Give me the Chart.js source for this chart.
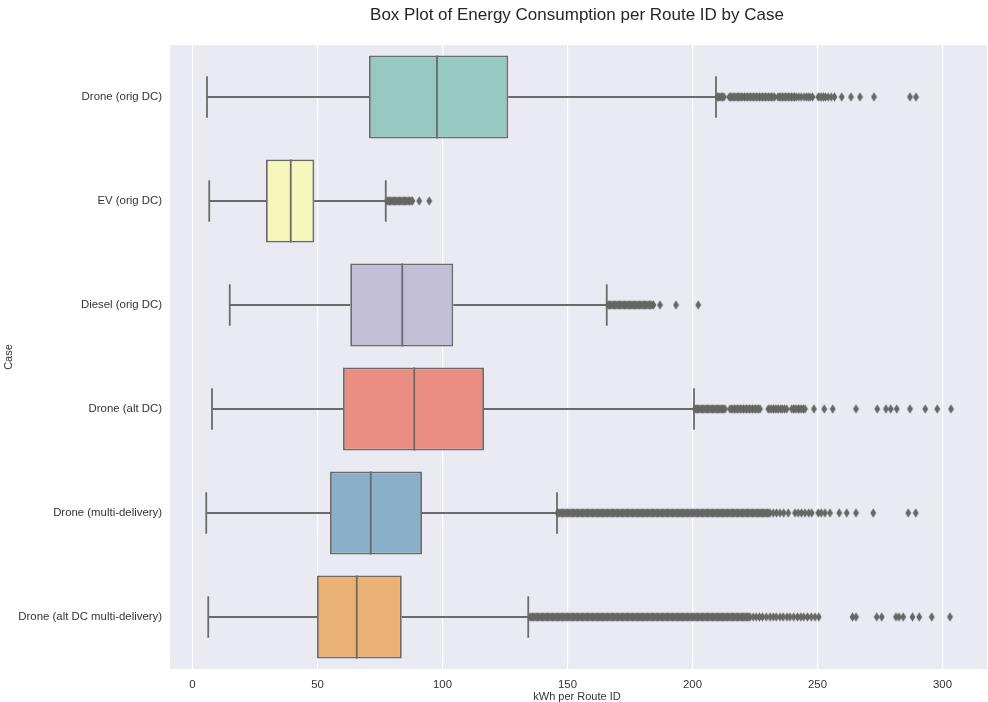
<!DOCTYPE html>
<html>
<head>
<meta charset="utf-8">
<script src="https://cdn.jsdelivr.net/npm/chart.js@4.4.0/dist/chart.umd.min.js"></script>
<style>
html,body{margin:0;padding:0;background:#fff;}
#wrap{width:988px;height:702px;}
</style>
</head>
<body>
<div id="wrap"><canvas id="c" width="988" height="702"></canvas></div>
<script>
const categories = ["Drone (orig DC)","EV (orig DC)","Diesel (orig DC)","Drone (alt DC)","Drone (multi-delivery)","Drone (alt DC multi-delivery)"];
const whiskerLow  = [5.8, 6.7, 14.9, 7.8, 5.5, 6.3];
const q1          = [70.6, 29.4, 63.1, 60.2, 55.0, 49.8];
const median      = [97.8, 39.3, 83.9, 88.7, 71.3, 65.7];
const q3          = [126.3, 48.7, 104.3, 116.6, 91.8, 83.7];
const whiskerHigh = [209.4, 77.3, 165.7, 200.6, 145.8, 134.3];
const boxColors = ["#96cac1","#f6f6bd","#c1bed6","#ea8e83","#8aafc9","#eab175"];
const xTicks = [0,50,100,150,200,250,300];

const outliersDroneOrig = [210,210.5,211,211.5,212,212.6,214.7,215.2,215.8,216.3,216.9,217.4,218,218.5,219,219.6,220.2,220.8,221.4,222,222.6,223.2,223.8,224.4,225,225.6,226.2,226.8,227.4,228,228.6,229.2,229.8,230.4,231,231.6,232.2,232.8,234.2,234.8,235.4,236,236.6,237.2,237.8,238.4,239,239.6,240.2,240.8,241.5,242.5,243.5,244.6,245.5,246.3,247,248,250.3,251,251.7,252.4,253.2,254.3,255.5,256.8,259.7,263.4,267,272.6,287,289.4];
const outliersEV = [77.8,78.3,78.8,79.3,79.8,80.3,80.8,81.3,81.8,82.3,82.8,83.3,83.8,84.3,84.8,85.3,85.8,86.3,86.8,87.4,88,90.7,94.7];
const outliersDiesel = [166.3,166.8,167.3,167.8,168.3,168.8,169.3,169.8,170.3,170.8,171.3,171.8,172.3,172.8,173.3,173.8,174.3,174.8,175.3,175.8,176.3,176.8,177.3,177.8,178.3,178.8,179.3,179.8,180.3,180.8,181.3,181.8,182.3,182.8,183.3,183.8,184.4,187,193.4,202.3];
const outliersDroneAlt = [201,201.5,202,202.5,203,203.5,204,204.5,205,205.5,206,206.5,207,207.5,208,208.5,209,209.5,210,210.5,211,211.5,212,212.5,213,215,215.6,216.2,216.8,217.4,218,218.6,219.2,219.8,220.4,221,221.6,222.2,222.8,223.4,224,224.6,225.2,225.8,226.4,227,230.3,231,231.7,232.4,233.1,233.8,234.5,235.3,236,236.8,237.7,239.7,240.4,241,241.7,242.4,243,243.7,244.4,245,248.6,252.7,256.1,265.4,273.9,277.4,279.3,281.7,287,293.1,297.9,303.4];
const outliersDroneMulti = [146,146.5,147,147.5,148,148.5,149,149.5,150,150.5,151,151.5,152,152.5,153,153.5,154,154.5,155,155.5,156,156.5,157,157.5,158,158.5,159,159.5,160,160.5,161,161.5,162,162.5,163,163.5,164,164.5,165,165.5,166,166.5,167,167.5,168,168.5,169,169.5,170,170.5,171,171.5,172,172.5,173,173.5,174,174.5,175,175.5,176,176.5,177,177.5,178,178.5,179,179.5,180,180.5,181,181.5,182,182.5,183,183.5,184,184.5,185,185.5,186,186.5,187,187.5,188,188.5,189,189.5,190,190.5,191,191.5,192,192.5,193,193.5,194,194.5,195,195.5,196,196.5,197,197.5,198,198.5,199,199.5,200,200.5,201,201.5,202,202.5,203,203.5,204,204.5,205,205.5,206,206.5,207,207.5,208,208.5,209,209.5,210,210.5,211,211.5,212,212.5,213,213.5,214,214.5,215,215.5,216,216.5,217,217.5,218,218.5,219,219.5,220,220.5,221,221.5,222,222.5,223,223.5,224,224.5,225,225.5,226,226.5,227,227.5,228,228.5,229,229.5,230,230.5,231,232.3,233.6,235,236.5,238.3,241,242.3,243.6,245,246.5,247.7,250.3,251.5,253,255,258.7,261.7,265.4,272.3,286.3,289.3];
const outliersDroneAltMulti = [135,135.5,136,136.5,137,137.5,138,138.5,139,139.5,140,140.5,141,141.5,142,142.5,143,143.5,144,144.5,145,145.5,146,146.5,147,147.5,148,148.5,149,149.5,150,150.5,151,151.5,152,152.5,153,153.5,154,154.5,155,155.5,156,156.5,157,157.5,158,158.5,159,159.5,160,160.5,161,161.5,162,162.5,163,163.5,164,164.5,165,165.5,166,166.5,167,167.5,168,168.5,169,169.5,170,170.5,171,171.5,172,172.5,173,173.5,174,174.5,175,175.5,176,176.5,177,177.5,178,178.5,179,179.5,180,180.5,181,181.5,182,182.5,183,183.5,184,184.5,185,185.5,186,186.5,187,187.5,188,188.5,189,189.5,190,190.5,191,191.5,192,192.5,193,193.5,194,194.5,195,195.5,196,196.5,197,197.5,198,198.5,199,199.5,200,200.5,201,201.5,202,202.5,203,203.5,204,204.5,205,205.5,206,206.5,207,207.5,208,208.5,209,209.5,210,210.5,211,211.5,212,212.5,213,213.5,214,214.5,215,215.5,216,216.5,217,217.5,218,218.5,219,219.5,220,220.5,221,221.5,222,222.5,223,224.3,225.5,226.8,228,229.5,231,232.3,233.5,235,236.3,237.8,239,240.5,242,243.3,244.5,246,247.5,249,250.5,264,265.4,273.7,275.7,281.4,282.6,284.3,288,290.7,295.7,303];
const outlierLists = [outliersDroneOrig, outliersEV, outliersDiesel, outliersDroneAlt, outliersDroneMulti, outliersDroneAltMulti];

const lineGray = "#6b6b6b";
const pointGray = "#666666";

// thin diamond marker
const dia = document.createElement('canvas');
dia.width = 7; dia.height = 10;
(function(){
  const g = dia.getContext('2d');
  g.fillStyle = pointGray;
  g.beginPath();
  g.moveTo(3.5,0.3); g.lineTo(6.4,5); g.lineTo(3.5,9.7); g.lineTo(0.6,5); g.closePath();
  g.fill();
})();

const outlierData = [];
outlierLists.forEach((arr, i) => arr.forEach(v => outlierData.push({x: v, y: categories[i]})));

const bgPlugin = {
  id: 'bg',
  beforeDraw(chart) {
    const {ctx, chartArea: a} = chart;
    ctx.save();
    ctx.fillStyle = '#eaeaf2';
    const right = Math.max(a.right, chart.width - 1);
    ctx.fillRect(a.left, a.top, right - a.left, a.bottom - a.top);
    ctx.restore();
  }
};

const boxPlugin = {
  id: 'boxparts',
  beforeDatasetsDraw(chart) {
    const ctx = chart.ctx;
    const xs = chart.scales.x;
    const meta = chart.getDatasetMeta(0);
    ctx.save();
    ctx.strokeStyle = lineGray;
    ctx.lineWidth = 1.8;
    meta.data.forEach((bar, i) => {
      const y = bar.y;
      const cap = bar.height * 0.25;
      const xl = xs.getPixelForValue(whiskerLow[i]);
      const x1 = xs.getPixelForValue(q1[i]);
      const x3 = xs.getPixelForValue(q3[i]);
      const xh = xs.getPixelForValue(whiskerHigh[i]);
      ctx.beginPath();
      ctx.moveTo(xl, y); ctx.lineTo(x1, y);
      ctx.moveTo(x3, y); ctx.lineTo(xh, y);
      ctx.moveTo(xl, y - cap); ctx.lineTo(xl, y + cap);
      ctx.moveTo(xh, y - cap); ctx.lineTo(xh, y + cap);
      ctx.stroke();
    });
    ctx.restore();
  },
  afterDatasetDraw(chart, args) {
    if (args.index !== 0) return;
    const ctx = chart.ctx;
    const xs = chart.scales.x;
    const meta = chart.getDatasetMeta(0);
    ctx.save();
    ctx.strokeStyle = lineGray;
    ctx.lineWidth = 1.8;
    meta.data.forEach((bar, i) => {
      const xm = xs.getPixelForValue(median[i]);
      ctx.beginPath();
      ctx.moveTo(xm, bar.y - bar.height / 2);
      ctx.lineTo(xm, bar.y + bar.height / 2);
      ctx.stroke();
    });
    ctx.restore();
  }
};

const FONT = "'Liberation Sans', Arial, Helvetica, sans-serif";

new Chart(document.getElementById('c'), {
  type: 'bar',
  data: {
    labels: categories,
    datasets: [
      {
        type: 'bar',
        data: categories.map((c, i) => [q1[i], q3[i]]),
        backgroundColor: boxColors,
        borderColor: lineGray,
        borderWidth: 1.8,
        borderSkipped: false,
        barPercentage: 0.8,
        categoryPercentage: 1.0,
        order: 2
      },
      {
        type: 'scatter',
        data: outlierData,
        pointStyle: dia,
        pointRadius: 4,
        backgroundColor: pointGray,
        borderWidth: 0,
        order: 1
      }
    ]
  },
  options: {
    indexAxis: 'y',
    responsive: false,
    animation: false,
    events: [],
    layout: { padding: { top: 0, right: 1, bottom: 0, left: 0 } },
    plugins: {
      legend: { display: false },
      tooltip: { enabled: false },
      title: {
        display: true,
        text: 'Box Plot of Energy Consumption per Route ID by Case',
        fullSize: false,
        color: '#262626',
        font: { family: FONT, size: 17, weight: 'normal' },
        padding: { top: 5, bottom: 19.6 }
      }
    },
    scales: {
      x: {
        type: 'linear',
        min: -9,
        max: 316.6,
        afterBuildTicks: s => { s.ticks = xTicks.map(v => ({ value: v })); },
        afterFit: s => { s.height = 33; s.paddingLeft = 0; s.paddingRight = 0; },
        grid: { color: '#ffffff', lineWidth: 1.2, drawTicks: false },
        border: { display: false },
        ticks: { color: '#333333', font: { family: FONT, size: 11.4 }, padding: 9, maxRotation: 0 },
        title: { display: true, text: 'kWh per Route ID', color: '#333333', font: { family: FONT, size: 11, lineHeight: 1.0 }, padding: { top: 0, bottom: 0 } }
      },
      y: {
        type: 'category',
        afterFit: s => { s.width = 170; },
        grid: { display: false, drawTicks: false },
        border: { display: false },
        ticks: { color: '#333333', font: { family: FONT, size: 11.4 }, padding: 8 },
        title: { display: true, text: 'Case', color: '#333333', font: { family: FONT, size: 11 }, padding: { top: 2, bottom: 2 } }
      }
    }
  },
  plugins: [bgPlugin, boxPlugin]
});
</script>
</body>
</html>
